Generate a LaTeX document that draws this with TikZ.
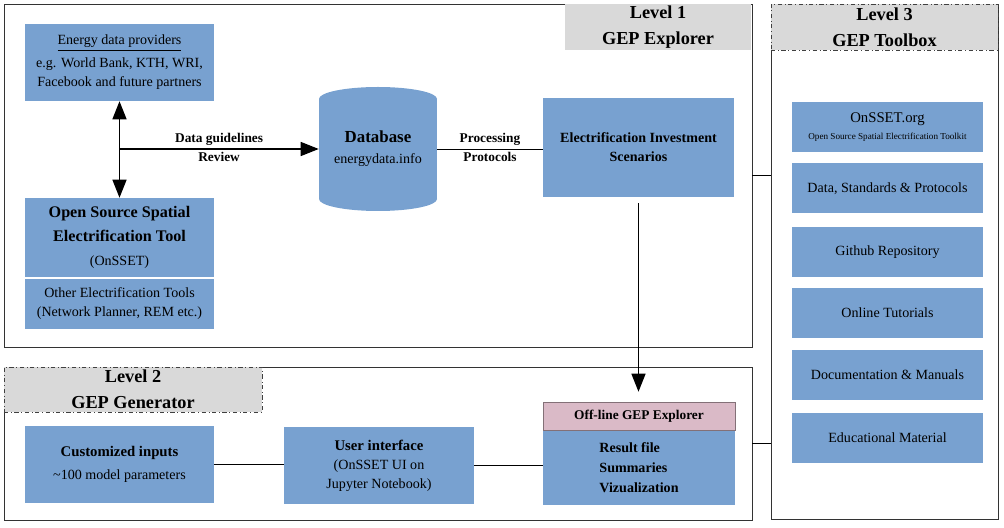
\documentclass[tikz,border=0pt]{standalone}
\usepackage{fontspec}
\setmainfont{Liberation Serif}
\usetikzlibrary{arrows.meta}
\definecolor{boxblue}{RGB}{120,161,208}
\definecolor{boxpink}{RGB}{218,186,199}
\definecolor{hdgray}{RGB}{217,217,217}

\begin{document}
\begin{tikzpicture}[
  box/.style={fill=boxblue, align=center, inner sep=2pt, font=\fontsize{10}{13.5}\selectfont},
  level/.style={draw=black!80, line width=0.7pt, inner sep=0pt},
  header/.style={fill=hdgray, align=center, inner sep=0pt, font=\fontsize{13}{18.5}\selectfont\bfseries},
  lbl/.style={font=\fontsize{9.5}{12}\selectfont\bfseries, inner sep=2pt},
  conn/.style={line width=0.9pt},
  bigarrow/.style={-{Triangle[length=0.45cm,width=0.35cm]}}
]
\useasboundingbox (0,0) rectangle (25.1,-13.2);

% outer level frames
\node[level, minimum width=18.7cm, minimum height=8.575cm] (l1) at (9.45,-4.3875) {};
\node[level, minimum width=18.7cm, minimum height=3.825cm] (l2) at (9.45,-11.0875) {};
\node[level, minimum width=5.675cm, minimum height=12.875cm] (l3) at (22.1125,-6.5375) {};

\node[header, minimum width=4.65cm, minimum height=1.15cm] (hd1) at (16.45,-0.675) {Level 1\\GEP Explorer};
\node[header, draw=black!75, dash dot, minimum width=6.45cm, minimum height=1.125cm] (hd2) at (3.325,-9.7375) {Level 2\\GEP Generator};
\node[header, draw=black!75, dash dot, minimum width=5.675cm, minimum height=1.15cm] (hd3) at (22.1125,-0.675) {Level 3\\GEP Toolbox};

% level 1
\node[box, minimum width=4.725cm, minimum height=1.925cm] (edp) at (2.9875,-1.5625)
  {\underline{Energy data providers}\\[3pt] e.g. World Bank, KTH, WRI,\\ Facebook and future partners};
\node[box, minimum width=4.725cm, minimum height=1.975cm, font=\fontsize{11.5}{17}\selectfont\bfseries] (onsset) at (2.9875,-5.9375)
  {Open Source Spatial\\ Electrification Tool\\ \fontsize{10}{14}\selectfont\mdseries (OnSSET)};
\node[box, minimum width=4.725cm, minimum height=1.25cm] (other) at (2.9875,-7.6)
  {Other Electrification Tools\\ (Network Planner, REM etc.)};

\fill[boxblue] (7.975,-2.475) rectangle (10.925,-4.975);
\fill[boxblue] (9.45,-2.475) ellipse [x radius=1.475cm, y radius=0.3cm];
\fill[boxblue] (9.45,-4.975) ellipse [x radius=1.475cm, y radius=0.3cm];
\node[align=center, minimum width=2.95cm, minimum height=3.1cm, inner sep=0pt, font=\fontsize{12}{15}\selectfont\bfseries] (db) at (9.45,-3.725)
  {Database\\ \fontsize{10}{12}\selectfont\mdseries energydata.info};

\node[box, minimum width=4.775cm, minimum height=2.475cm, font=\fontsize{10}{13.5}\selectfont\bfseries] (eis) at (15.9625,-3.6875)
  {Electrification Investment\\ Scenarios};

% level 2
\node[box, minimum width=4.725cm, minimum height=1.925cm, font=\fontsize{10.5}{14}\selectfont\bfseries] (cust) at (2.9875,-11.6125)
  {Customized inputs\\[2pt] \fontsize{10}{13.5}\selectfont\mdseries \textasciitilde100 model parameters};
\node[box, minimum width=4.75cm, minimum height=1.925cm] (ui) at (9.475,-11.6375)
  {{\fontsize{10.5}{14}\selectfont\bfseries User interface}\\ (OnSSET UI on\\ Jupyter Notebook)};
\node[fill=boxpink, draw=boxpink!60!black, thin, minimum width=4.8cm, minimum height=0.7cm, inner sep=0pt,
  font=\fontsize{9.5}{12}\selectfont\bfseries] (offhead) at (15.975,-10.4) {Off-line GEP Explorer};
\node[box, anchor=north, align=left, minimum width=4.8cm, minimum height=1.85cm,
  font=\fontsize{10}{14.5}\selectfont\bfseries] (offbody) at (offhead.south)
  {Result file\\ Summaries\\ Vizualization};

% level 3
\node[box, minimum width=4.775cm, minimum height=1.25cm, font=\fontsize{10.5}{12}\selectfont] (tb1) at (22.1875,-3.175)
  {OnSSET.org\\ \fontsize{6.5}{8}\selectfont Open Source Spatial Electrification Toolkit};
\node[box, minimum width=4.775cm, minimum height=1.25cm] (tb2) at (22.1875,-4.7125) {Data, Standards \& Protocols};
\node[box, minimum width=4.775cm, minimum height=1.25cm] (tb3) at (22.1875,-6.3) {Github Repository};
\node[box, minimum width=4.775cm, minimum height=1.25cm] (tb4) at (22.1875,-7.825) {Online Tutorials};
\node[box, minimum width=4.775cm, minimum height=1.25cm] (tb5) at (22.1875,-9.375) {Documentation \& Manuals};
\node[box, minimum width=4.775cm, minimum height=1.25cm] (tb6) at (22.1875,-10.95) {Educational Material};

% connectors
\coordinate (junc) at (edp.south |- db.west);
\draw[conn, {Triangle[length=0.45cm,width=0.35cm]}-{Triangle[length=0.45cm,width=0.35cm]}] (edp) -- (onsset);
\draw[conn, bigarrow] (junc) -- node[lbl, above]{Data guidelines} node[lbl, below]{Review} (db.west);
\draw[line width=0.7pt] (db.east) -- node[lbl, above]{Processing} node[lbl, below]{Protocols} (db.east -| eis.west);
\draw[conn, bigarrow, shorten <=0.15cm, shorten >=0.25cm] (eis.south) -- (eis.south |- offhead.north);
\draw[line width=0.7pt] (cust.east) -- (cust.east -| ui.west);
\draw[line width=0.7pt] (ui.east) -- (ui.east -| offbody.west);
\draw[line width=0.7pt] (l1.east) -- (l1.east -| l3.west);
\draw[line width=0.7pt] (l2.east) -- (l2.east -| l3.west);
\end{tikzpicture}
\end{document}
